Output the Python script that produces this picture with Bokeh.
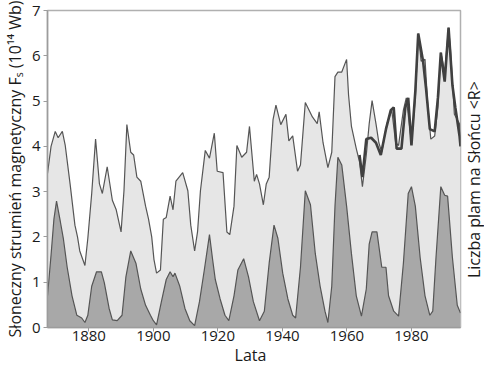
from math import pi
from bokeh.plotting import figure
from bokeh.models import Range1d
from bokeh.layouts import row, column
from bokeh.core.properties import value
from bokeh.embed import file_html
from bokeh.resources import INLINE

# Reconstructed solar magnetic flux (10^14 Wb)
flux_years = [1867.2, 1868.3, 1869.6, 1870.5, 1871.8, 1872.7, 1874.2, 1875.7, 1876.5, 1877.2,
              1878.8, 1879.7, 1880.9, 1882.1, 1883.3, 1884.2, 1885.7, 1887.3, 1888.5, 1890.0,
              1890.9, 1891.8, 1893.0, 1893.9, 1894.9, 1896.1, 1897.6, 1898.5, 1899.5, 1900.2,
              1901.0, 1902.2, 1903.1, 1904.0, 1905.2, 1906.1, 1907.0, 1909.1, 1910.7, 1911.6,
              1912.8, 1913.7, 1914.6, 1916.1, 1917.4, 1918.9, 1919.8, 1921.6, 1922.8, 1923.7,
              1925.0, 1925.9, 1927.4, 1928.9, 1929.8, 1931.3, 1932.0, 1932.9, 1934.1, 1935.0,
              1935.9, 1937.1, 1938.0, 1939.5, 1941.1, 1942.0, 1943.2, 1944.7, 1945.6, 1947.1,
              1949.3, 1950.8, 1951.4, 1952.6, 1954.1, 1955.3, 1956.3, 1957.2, 1958.4, 1959.9,
              1960.5, 1961.4, 1962.9, 1963.9, 1964.8, 1966.0, 1966.9, 1967.8, 1969.0, 1969.9,
              1970.8, 1972.4, 1973.9, 1975.1, 1976.0, 1977.5, 1978.4, 1980.0, 1981.2, 1982.1,
              1983.0, 1984.2, 1985.1, 1986.0, 1987.2, 1988.2, 1989.1, 1990.3, 1991.5, 1992.1,
              1993.3, 1994.9, 1995.2]
flux_vals = [3.4, 4.0, 4.33, 4.19, 4.33, 4.02, 3.17, 2.26, 2.0, 1.69,
             1.37, 1.97, 2.96, 4.16, 3.17, 2.96, 3.55, 2.81, 2.60, 2.11,
             3.02, 4.48, 3.87, 3.81, 3.32, 3.23, 2.68, 2.4, 2.0, 1.5,
             1.2, 1.27, 2.39, 2.43, 2.90, 2.60, 3.23, 3.42, 3.02, 2.26,
             1.69, 2.11, 3.02, 3.91, 3.74, 4.29, 3.45, 3.42, 2.11, 2.05,
             2.68, 4.02, 3.76, 3.87, 4.44, 3.23, 3.38, 3.17, 2.71, 3.17,
             3.32, 4.59, 4.91, 4.48, 4.71, 4.12, 4.23, 3.45, 3.59, 4.97,
             4.65, 4.50, 4.76, 4.08, 3.53, 3.87, 5.54, 5.64, 5.64, 5.92,
             5.14, 4.44, 3.95, 3.66, 3.11, 3.81, 4.50, 5.01, 4.50, 4.08,
             3.87, 4.50, 4.80, 4.08, 4.02, 4.80, 5.07, 4.08, 5.07, 6.49,
             5.88, 5.92, 4.86, 4.16, 4.23, 4.86, 6.07, 5.64, 6.62, 6.13,
             4.71, 4.50, 4.0]

# Measured flux (thick line)
meas_years = [1963.9, 1964.8, 1966.0, 1967.5, 1969.0, 1970.5, 1972.1, 1973.6, 1974.5, 1975.4,
              1976.9, 1978.1, 1979.0, 1980.0, 1981.2, 1982.1, 1983.6, 1984.5, 1985.7, 1987.2,
              1988.2, 1989.1, 1990.3, 1991.5, 1992.7, 1993.6, 1994.9, 1995.2]
meas_vals = [3.81, 3.32, 4.16, 4.19, 4.08, 3.81, 4.38, 4.80, 4.86, 3.95,
             3.95, 4.86, 5.07, 4.02, 5.22, 6.49, 5.88, 5.29, 4.38, 4.33,
             5.07, 6.07, 5.43, 6.62, 5.35, 4.86, 4.23, 4.0]

# Sunspot number <R>, scaled to the flux axis
spot_years = [1867.2, 1868.3, 1869.2, 1870.0, 1871.2, 1872.1, 1873.3, 1874.8, 1876.3, 1877.8,
              1878.8, 1879.7, 1880.9, 1882.4, 1883.9, 1884.8, 1886.3, 1887.3, 1888.8, 1890.3,
              1891.5, 1893.0, 1894.6, 1896.1, 1897.6, 1899.1, 1900.0, 1901.0, 1902.5, 1904.0,
              1905.2, 1906.1, 1906.7, 1908.2, 1909.8, 1911.3, 1912.8, 1914.3, 1915.8, 1917.4,
              1918.3, 1919.2, 1920.7, 1922.2, 1923.4, 1925.0, 1926.2, 1928.0, 1929.5, 1931.0,
              1932.9, 1934.4, 1935.9, 1937.4, 1938.6, 1940.1, 1941.7, 1943.2, 1944.1, 1945.6,
              1947.1, 1948.7, 1950.2, 1951.7, 1953.2, 1954.1, 1955.3, 1956.3, 1957.2, 1958.4,
              1959.9, 1961.4, 1962.9, 1964.5, 1966.0, 1966.9, 1967.8, 1969.3, 1970.8, 1972.1,
              1972.9, 1974.5, 1976.0, 1977.5, 1979.0, 1980.0, 1981.2, 1982.7, 1984.2, 1985.7,
              1986.6, 1987.6, 1989.1, 1990.3, 1991.2, 1992.7, 1994.2, 1995.2]
spot_vals = [0.7, 1.6, 2.4, 2.79, 2.33, 1.97, 1.33, 0.70, 0.27, 0.21,
             0.11, 0.27, 0.91, 1.23, 1.23, 0.99, 0.42, 0.17, 0.15, 0.27,
             1.12, 1.69, 1.42, 0.85, 0.49, 0.27, 0.15, 0.06, 0.57, 1.06,
             1.23, 1.12, 1.20, 0.91, 0.42, 0.15, 0.04, 0.57, 1.27, 2.05,
             1.54, 1.06, 0.63, 0.27, 0.15, 0.70, 1.27, 1.52, 1.12, 0.57,
             0.15, 0.36, 1.42, 2.26, 1.97, 1.20, 0.63, 0.27, 0.21, 1.33,
             3.02, 2.71, 1.63, 0.91, 0.36, 0.11, 0.91, 2.68, 3.76, 3.59,
             2.68, 1.63, 0.70, 0.25, 0.85, 1.84, 2.11, 2.11, 1.33, 1.33,
             0.70, 0.36, 0.25, 1.42, 2.96, 3.11, 2.68, 1.54, 0.70, 0.27,
             0.36, 1.54, 3.11, 2.92, 2.90, 1.54, 0.49, 0.32]

x_ticks = [1880, 1900, 1920, 1940, 1960, 1980]
y_ticks = [0, 1, 2, 3, 4, 5, 6, 7]

x_label = "Lata"
y_label = "Słoneczny strumień magnetyczny Fₛ (10¹⁴ Wb)"
r_label = "Liczba plam na Słońcu <R>"

FONT = "Open Sans"
AX = "#9c9c9c"
TXT = "#1a1a1a"
W_MAIN, W_RIGHT = 462, 22
H_MAIN, H_BOTTOM = 343, 22

p = figure(width=W_MAIN, height=H_MAIN, output_backend="svg", toolbar_location=None,
           x_range=Range1d(1867.2, 1995.2), y_range=Range1d(0, 7),
           min_border_top=10, min_border_right=2, min_border_left=10, min_border_bottom=0,
           background_fill_color="white", border_fill_color="white")

p.varea(x=flux_years, y1=0, y2=flux_vals, fill_color="#e6e6e6")
p.line(flux_years, flux_vals, line_color="#555555", line_width=1.2)
p.varea(x=spot_years, y1=0, y2=spot_vals, fill_color="#a8a8a8")
p.line(spot_years, spot_vals, line_color="#555555", line_width=1.2)
p.line(meas_years, meas_vals, line_color="#404040", line_width=2.6)

p.xgrid.visible = False
p.ygrid.visible = False
p.outline_line_color = "#b0b0b0"
p.outline_line_width = 1.5

for ax in (p.xaxis[0], p.yaxis[0]):
    ax.axis_line_color = AX
    ax.axis_line_width = 1.5
    ax.major_tick_line_color = AX
    ax.major_tick_in = 0
    ax.major_tick_out = 4
    ax.minor_tick_line_color = None
    ax.major_label_text_font = FONT
    ax.major_label_text_font_size = "15px"
    ax.major_label_text_color = TXT
    ax.axis_label_text_font = FONT
    ax.axis_label_text_font_style = "normal"
    ax.axis_label_text_color = TXT

p.xaxis.ticker = x_ticks
p.yaxis.ticker = y_ticks
p.xaxis.major_label_standoff = -1
p.yaxis.axis_label = y_label
p.yaxis.axis_label_text_font_size = "16px"
p.yaxis.major_label_standoff = 3
p.yaxis.axis_label_standoff = 3

# narrow strip on the right carrying the right-hand axis title
pr = figure(width=W_RIGHT, height=H_MAIN, output_backend="svg", toolbar_location=None,
            x_range=Range1d(0, W_RIGHT), y_range=Range1d(0, H_MAIN),
            x_axis_location=None, y_axis_location=None,
            min_border=0, outline_line_color=None,
            background_fill_color="white", border_fill_color="white")
pr.xgrid.visible = False
pr.ygrid.visible = False
pr.text(x=[W_RIGHT / 2], y=[H_MAIN - 183], text=[r_label], angle=pi / 2,
        text_align="center", text_baseline="middle",
        text_font=value(FONT), text_font_size="16px", text_color=TXT)

# strip at the bottom carrying the x-axis title
pb = figure(width=W_MAIN + W_RIGHT, height=H_BOTTOM, output_backend="svg", toolbar_location=None,
            x_range=Range1d(0, W_MAIN + W_RIGHT), y_range=Range1d(0, H_BOTTOM),
            x_axis_location=None, y_axis_location=None,
            min_border=0, outline_line_color=None,
            background_fill_color="white", border_fill_color="white")
pb.xgrid.visible = False
pb.ygrid.visible = False
pb.text(x=[250], y=[H_BOTTOM / 2], text=[x_label], text_align="center", text_baseline="middle",
        text_font=value(FONT), text_font_size="16px", text_color=TXT)

layout = column(row(p, pr), pb)
open("out.html", "w").write(file_html(layout, INLINE))
